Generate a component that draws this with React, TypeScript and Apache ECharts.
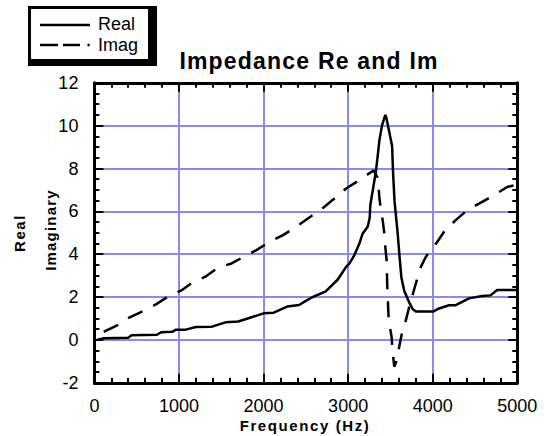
import React, { useEffect, useRef } from 'react';
import * as echarts from 'echarts';

// ---- data ----
const xMin = 0;
const xMax = 5000;
const xInterval = 1000;
const yMin = -2;
const yMax = 12;
const yInterval = 2;

const titleText = 'Impedance Re and Im';
const xName = 'Frequency (Hz)';
const yNameOuter = 'Real';
const yNameInner = 'Imaginary';
const seriesNames = ['Real', 'Imag'];

// Frequency (Hz), Real part
const realData: [number, number][] = [
  [30, 0.0], [110, 0.08], [400, 0.1], [440, 0.22], [740, 0.24], [790, 0.36],
  [920, 0.38], [960, 0.47], [1080, 0.48], [1200, 0.6], [1390, 0.62], [1550, 0.82],
  [1700, 0.86], [1850, 1.05], [2000, 1.24], [2120, 1.27], [2280, 1.56], [2420, 1.63],
  [2490, 1.8], [2570, 1.98], [2735, 2.27], [2878, 2.82], [2976, 3.41], [3016, 3.57],
  [3074, 3.96], [3133, 4.5], [3172, 4.97], [3231, 5.28], [3255, 5.7], [3262, 6.3],
  [3298, 7.14], [3330, 7.92], [3350, 8.6], [3369, 9.3], [3400, 10.0], [3439, 10.5],
  [3450, 10.4], [3520, 9.05], [3530, 7.9], [3548, 6.5], [3585, 5.0], [3608, 3.88],
  [3630, 2.9], [3663, 2.3], [3722, 1.75], [3761, 1.45], [3800, 1.33], [4010, 1.33],
  [4075, 1.47], [4193, 1.62], [4272, 1.62], [4429, 1.94], [4585, 2.05], [4683, 2.08],
  [4762, 2.33], [5000, 2.33],
];

// Frequency (Hz), Imaginary part
const imagData: [number, number][] = [
  [110, 0.38], [287, 0.72], [405, 1.03], [581, 1.36], [727, 1.66], [876, 2.04],
  [1033, 2.32], [1170, 2.71], [1307, 2.94], [1464, 3.38], [1622, 3.57], [1779, 3.91],
  [1916, 4.19], [2073, 4.58], [2230, 4.89], [2387, 5.28], [2524, 5.67], [2681, 6.09],
  [2838, 6.6], [2976, 7.07], [3133, 7.46], [3251, 7.78], [3300, 7.9], [3345, 7.6],
  [3357, 7.3], [3370, 6.6], [3388, 6.06], [3408, 5.59], [3428, 4.97], [3439, 4.35],
  [3455, 3.72], [3462, 2.6], [3470, 1.8], [3480, 0.9], [3514, 0.14], [3525, -0.5],
  [3545, -1.25], [3570, -1.0], [3604, -0.32], [3643, 0.46], [3683, 0.92], [3722, 1.55],
  [3800, 2.63], [3860, 3.41], [3919, 3.88], [3990, 4.25], [4055, 4.58], [4134, 5.05],
  [4272, 5.59], [4409, 6.06], [4585, 6.44], [4743, 6.8], [4880, 7.14], [5000, 7.25],
];

const FONT = 'Liberation Sans';
const GRID_COLOR = '#8a8aee';

const letterSpacing: Record<string, number> = {
  [titleText]: 1.2,
  [xName]: 1.6,
  [yNameOuter]: 1.6,
  [yNameInner]: 1.2,
};

function frameAxis(min: number, max: number, interval: number, position: string, minorSplit: number, withLabels: boolean) {
  return {
    type: 'value',
    min,
    max,
    interval,
    position,
    z: 5,
    axisLine: { show: true, onZero: false, lineStyle: { color: '#000', width: 3 } },
    axisTick: { show: true, inside: true, length: 9, lineStyle: { color: '#000', width: 2 } },
    minorTick: { show: true, splitNumber: minorSplit, length: 5, lineStyle: { color: '#000', width: 2 } },
    splitLine: { show: false },
    axisLabel: withLabels
      ? {
          show: true,
          margin: position === 'bottom' ? 14 : 16,
          fontSize: 18,
          color: '#000',
          fontFamily: FONT,
          formatter: (v: number) => String(v),
        }
      : { show: false },
  };
}

function gridAxis(min: number, max: number, interval: number, position: string) {
  return {
    type: 'value',
    min,
    max,
    interval,
    position,
    z: 1,
    axisLine: { show: false, onZero: false },
    axisTick: { show: false },
    axisLabel: { show: false },
    splitLine: { show: true, lineStyle: { color: GRID_COLOR, width: 2 } },
  };
}

export default function App() {
  const ref = useRef<HTMLDivElement>(null);

  useEffect(() => {
    const el = ref.current;
    if (!el) return;
    const chart = echarts.init(el, undefined, { renderer: 'svg' });

    const option: any = {
      animation: false,
      backgroundColor: '#fff',
      grid: { left: 94.4, right: 26.7, top: 82.8, bottom: 53.2, containLabel: false },
      xAxis: [
        frameAxis(xMin, xMax, xInterval, 'bottom', 5, true),
        frameAxis(xMin, xMax, xInterval, 'top', 5, false),
        gridAxis(xMin, xMax, xInterval, 'bottom'),
      ],
      yAxis: [
        frameAxis(yMin, yMax, yInterval, 'left', 4, true),
        frameAxis(yMin, yMax, yInterval, 'right', 4, false),
        gridAxis(yMin, yMax, yInterval, 'left'),
      ],
      series: [
        {
          type: 'line',
          name: seriesNames[0],
          data: realData,
          xAxisIndex: 0,
          yAxisIndex: 0,
          symbol: 'none',
          showSymbol: false,
          silent: true,
          z: 3,
          lineStyle: { color: '#000', width: 2.5 },
        },
        {
          type: 'line',
          name: seriesNames[1],
          data: imagData,
          xAxisIndex: 0,
          yAxisIndex: 0,
          symbol: 'none',
          showSymbol: false,
          silent: true,
          z: 3,
          lineStyle: { color: '#000', width: 2.5, type: [16, 12] },
        },
      ],
      graphic: [
        {
          type: 'text',
          x: 309,
          y: 61,
          silent: true,
          style: {
            text: titleText,
            fontFamily: FONT,
            fontWeight: 'bold',
            fontSize: 23,
            fill: '#000',
            textAlign: 'center',
            textVerticalAlign: 'middle',
          },
        },
        {
          type: 'text',
          x: 305,
          y: 425,
          silent: true,
          style: {
            text: xName,
            fontFamily: FONT,
            fontWeight: 'bold',
            fontSize: 15,
            fill: '#000',
            textAlign: 'center',
            textVerticalAlign: 'middle',
          },
        },
        {
          type: 'text',
          x: 19,
          y: 233,
          rotation: Math.PI / 2,
          silent: true,
          style: {
            text: yNameOuter,
            fontFamily: FONT,
            fontWeight: 'bold',
            fontSize: 15,
            fill: '#000',
            textAlign: 'center',
            textVerticalAlign: 'middle',
          },
        },
        {
          type: 'text',
          x: 50,
          y: 230,
          rotation: Math.PI / 2,
          silent: true,
          style: {
            text: yNameInner,
            fontFamily: FONT,
            fontWeight: 'bold',
            fontSize: 15,
            fill: '#000',
            textAlign: 'center',
            textVerticalAlign: 'middle',
          },
        },
        // legend box with shadow
        {
          type: 'rect',
          silent: true,
          shape: { x: 28, y: 6, width: 129, height: 60 },
          style: { fill: '#000' },
        },
        {
          type: 'rect',
          silent: true,
          shape: { x: 31, y: 9, width: 117, height: 50 },
          style: { fill: '#fff' },
        },
        {
          type: 'line',
          silent: true,
          shape: { x1: 40, y1: 25, x2: 90, y2: 25 },
          style: { stroke: '#000', lineWidth: 2.5 },
        },
        {
          type: 'line',
          silent: true,
          shape: { x1: 40, y1: 45, x2: 58, y2: 45 },
          style: { stroke: '#000', lineWidth: 2.5 },
        },
        {
          type: 'line',
          silent: true,
          shape: { x1: 63, y1: 45, x2: 80, y2: 45 },
          style: { stroke: '#000', lineWidth: 2.5 },
        },
        {
          type: 'rect',
          silent: true,
          shape: { x: 87.5, y: 43.8, width: 2.2, height: 2.5 },
          style: { fill: '#000' },
        },
        {
          type: 'text',
          x: 98,
          y: 24,
          silent: true,
          style: {
            text: seriesNames[0],
            fontFamily: FONT,
            fontSize: 18,
            fill: '#000',
            textAlign: 'left',
            textVerticalAlign: 'middle',
          },
        },
        {
          type: 'text',
          x: 98,
          y: 45,
          silent: true,
          style: {
            text: seriesNames[1],
            fontFamily: FONT,
            fontSize: 18,
            fill: '#000',
            textAlign: 'left',
            textVerticalAlign: 'middle',
          },
        },
      ],
    };

    chart.setOption(option);

    const applySpacing = () => {
      el.querySelectorAll('text').forEach((t) => {
        const html = t.outerHTML || '';
        if (!/bold/.test(html)) return;
        const v = letterSpacing[t.textContent || ''];
        if (v) t.setAttribute('letter-spacing', String(v));
      });
    };
    applySpacing();
    chart.on('finished', applySpacing);
    const timer = setTimeout(applySpacing, 0);

    return () => {
      clearTimeout(timer);
      chart.dispose();
    };
  }, []);

  return (
    <div
      ref={ref}
      style={{ position: 'fixed', left: 0, top: 0, width: 544, height: 436, background: '#fff' }}
    />
  );
}
